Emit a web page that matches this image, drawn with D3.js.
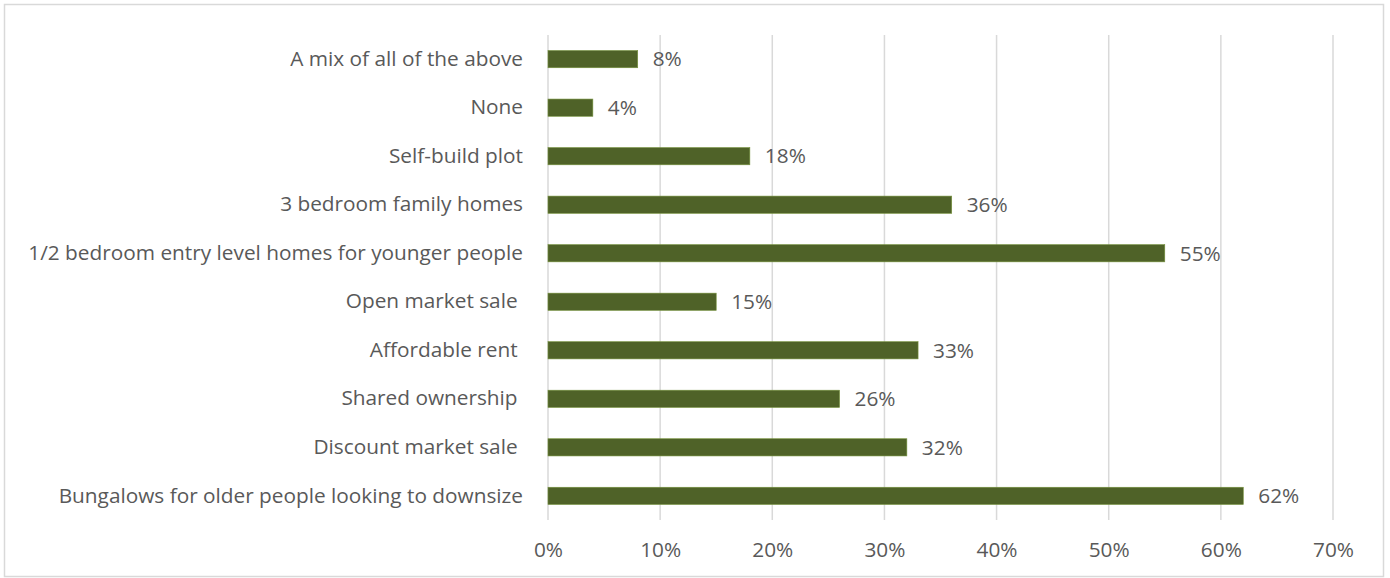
<!DOCTYPE html>
<html>
<head>
<meta charset="utf-8">
<script src="https://cdn.jsdelivr.net/npm/d3@7"></script>
<style>
  html, body { margin: 0; padding: 0; background: #fff; }
  svg text { font-family: "Open Sans", Lato, sans-serif; fill: #595959; white-space: pre; }
</style>
</head>
<body>
<svg id="chart" width="1390" height="578"></svg>
<script>
// Housing types, listed top to bottom
const categories = [
  "A mix of all of the above",
  "None",
  "Self-build plot",
  "3 bedroom family homes",
  "1/2 bedroom entry level homes for younger people",
  "Open market sale ",
  "Affordable rent ",
  "Shared ownership ",
  "Discount market sale ",
  "Bungalows for older people looking to downsize"
];
// Share of respondents (%)
const values = [8, 4, 18, 36, 55, 15, 33, 26, 32, 62];
// Axis ticks (%)
const ticks = [0, 10, 20, 30, 40, 50, 60, 70];

const FONT = "'Open Sans', Lato, sans-serif";
const FS = 20.8;

const svg = d3.select("#chart");

// Chart frame
svg.append("rect")
  .attr("x", 4.5).attr("y", 4.5)
  .attr("width", 1379).attr("height", 572)
  .attr("fill", "#fff").attr("stroke", "#d9d9d9").attr("stroke-width", 1.5);

const plot = { left: 548, right: 1333, top: 35, bottom: 520 };

const x = d3.scaleLinear().domain([0, 70]).range([plot.left, plot.right]);
const y = d3.scaleBand().domain(categories).range([plot.top, plot.bottom]).paddingInner(0.645).paddingOuter(0.32);

// Vertical gridlines
svg.append("g").selectAll("line").data(ticks).join("line")
  .attr("x1", d => x(d)).attr("x2", d => x(d))
  .attr("y1", plot.top).attr("y2", plot.bottom)
  .attr("stroke", "#d9d9d9").attr("stroke-width", 1.5);

// Bottom axis labels
const xAxis = d3.axisBottom(x).tickValues(ticks).tickFormat(d => d + "%").tickSize(0).tickPadding(0);
const gx = svg.append("g").attr("transform", `translate(0,${plot.bottom + 22})`).call(xAxis);
gx.select(".domain").remove();
gx.selectAll("text").attr("font-size", FS).attr("fill", "#595959").style("font-family", FONT);

// Category labels
const yAxis = d3.axisLeft(y).tickSize(0).tickPadding(25);
const gy = svg.append("g").attr("transform", `translate(${plot.left},0)`).call(yAxis);
gy.select(".domain").remove();
gy.selectAll("text").attr("font-size", FS).attr("fill", "#595959")
  .style("font-family", FONT).style("white-space", "pre");

// Bars
const rows = categories.map((c, i) => ({ c, v: values[i] }));
svg.append("g").selectAll("rect").data(rows).join("rect")
  .attr("x", x(0))
  .attr("y", d => y(d.c))
  .attr("width", d => x(d.v) - x(0))
  .attr("height", y.bandwidth())
  .attr("fill", "#4f6228")
  .attr("stroke", "#76923c").attr("stroke-width", 0.6);

// Value labels
svg.append("g").selectAll("text").data(rows).join("text")
  .attr("x", d => x(d.v) + 15)
  .attr("y", d => y(d.c) + y.bandwidth() / 2)
  .attr("dy", "0.35em")
  .attr("font-size", FS)
  .style("font-family", FONT)
  .text(d => d.v + "%");
</script>
</body>
</html>
